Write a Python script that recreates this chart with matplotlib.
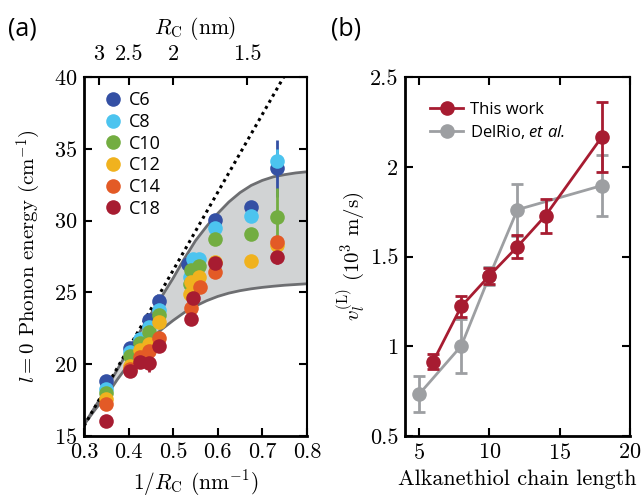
import matplotlib
matplotlib.use('Agg')
import matplotlib.pyplot as plt
from matplotlib.ticker import FormatStrFormatter
from matplotlib.lines import Line2D

plt.rcParams['font.family'] = ['cmr10', 'DejaVu Serif']
plt.rcParams['axes.formatter.use_mathtext'] = True
plt.rcParams['axes.unicode_minus'] = False
plt.rcParams['mathtext.fontset'] = 'custom'
plt.rcParams['mathtext.rm'] = 'cmr10'
plt.rcParams['mathtext.it'] = 'cmmi10'
plt.rcParams['mathtext.bf'] = 'cmb10'
plt.rcParams['mathtext.sf'] = 'Open Sans:italic'
plt.rcParams['mathtext.fallback'] = 'cm'

# ---- panel (a) data: 1/R_C (nm^-1), phonon energy (cm^-1), error
x_c6 = [0.350, 0.403, 0.425, 0.446, 0.468, 0.533, 0.594, 0.674, 0.732]
y_c6 = [18.85, 21.1, 21.7, 23.1, 24.4, 26.95, 30.04, 30.97, 33.64]
e_c6 = [0, 0, 0, 0, 0, 0, 0, 0, 1.97]

x_c8 = [0.350, 0.403, 0.425, 0.446, 0.468, 0.545, 0.557, 0.538, 0.594, 0.674, 0.732]
y_c8 = [18.3, 20.85, 21.75, 22.6, 23.8, 27.3, 27.3, 26.1, 29.46, 30.35, 34.17]
e_c8 = [0, 0, 0, 0, 0, 0, 0, 0, 0, 0, 0.8]

x_c10 = [0.350, 0.403, 0.425, 0.446, 0.468, 0.541, 0.558, 0.538, 0.594, 0.674, 0.732]
y_c10 = [18.0, 20.6, 21.5, 22.25, 23.4, 26.55, 26.85, 25.6, 28.7, 29.07, 30.27]
e_c10 = [0, 0, 0, 0, 0, 0, 0, 0, 0, 0.2, 2.0]

x_c12 = [0.350, 0.403, 0.425, 0.446, 0.468, 0.557, 0.541, 0.537, 0.594, 0.674, 0.732]
y_c12 = [17.6, 19.9, 21.0, 21.4, 22.95, 26.1, 25.75, 24.9, 27.1, 27.19, 28.3]
e_c12 = [0, 0, 0, 0, 0, 0, 0, 0, 0, 0, 0.3]

x_c14 = [0.350, 0.403, 0.425, 0.446, 0.468, 0.560, 0.541, 0.594, 0.732]
y_c14 = [17.25, 19.7, 20.5, 20.9, 21.8, 25.4, 23.9, 26.44, 28.53]
e_c14 = [0, 0, 0, 0, 0, 0, 0, 0, 0.3]

x_c18 = [0.350, 0.403, 0.425, 0.446, 0.468, 0.544, 0.541, 0.594, 0.732]
y_c18 = [16.05, 19.5, 20.15, 20.05, 21.25, 24.6, 23.13, 27.03, 27.49]
e_c18 = [0, 0, 0, 0.6, 0, 0, 0, 0, 0.5]

ligands = ['C6', 'C8', 'C10', 'C12', 'C14', 'C18']
lig_colors = ['#3450a4', '#4cc4ef', '#73ad41', '#f0b21e', '#e35a26', '#a71c31']

# model band
band_x = [0.300, 0.325, 0.350, 0.375, 0.400, 0.425, 0.450, 0.475, 0.500,
          0.525, 0.550, 0.575, 0.600, 0.625, 0.650, 0.675, 0.700, 0.725,
          0.750, 0.775, 0.800]
band_hi = [15.8, 17.05, 18.3, 19.65, 21.0, 22.25, 23.5, 24.75, 26.0,
           27.35, 28.6, 29.6, 30.5, 31.3, 31.95, 32.45, 32.8, 33.05,
           33.2, 33.32, 33.4]
band_lo = [15.8, 16.85, 17.8, 18.95, 20.0, 20.95, 21.75, 22.45, 23.05,
           23.6, 24.05, 24.42, 24.72, 24.95, 25.12, 25.25, 25.35, 25.43,
           25.5, 25.55, 25.6]

# dotted line endpoints
dot_x = [0.30, 0.748]
dot_y = [15.7, 40.0]

r_ticks = [3, 2.5, 2, 1.5]

# ---- panel (b) data
n_this = [6, 8, 10, 12, 14, 18]
v_this = [0.915, 1.222, 1.393, 1.555, 1.728, 2.165]
err_this = [0.04, 0.06, 0.045, 0.063, 0.095, 0.195]

n_delrio = [5, 8, 10, 12, 18]
v_delrio = [0.733, 1.002, 1.39, 1.761, 1.895]
err_delrio = [0.10, 0.15, 0.05, 0.145, 0.17]

red = '#a71c31'
grey = '#9d9fa2'

fig = plt.figure(figsize=(6.42, 5.0), dpi=100)
ax1 = fig.add_axes([0.131, 0.128, 0.347, 0.718])
ax2 = fig.add_axes([0.631, 0.128, 0.350, 0.718])

# panel (a)
ax1.fill_between(band_x, band_lo, band_hi, color='#d1d3d4', lw=0, zorder=1)
ax1.plot(band_x, band_hi, color='#6d6e71', lw=2, zorder=2)
ax1.plot(band_x, band_lo, color='#6d6e71', lw=2, zorder=2)
ax1.plot(dot_x, dot_y, color='k', ls=(0, (1, 1.3)), lw=2.2, zorder=2)

xs = [x_c6, x_c8, x_c10, x_c12, x_c14, x_c18]
ys = [y_c6, y_c8, y_c10, y_c12, y_c14, y_c18]
es = [e_c6, e_c8, e_c10, e_c12, e_c14, e_c18]
for name, c, x, y, e in zip(ligands, lig_colors, xs, ys, es):
    ax1.errorbar(x, y, yerr=e, fmt='o', color=c, ms=10.5, mew=0,
                 elinewidth=2, capsize=3.5, capthick=2, zorder=3)

ax1.set_xlim(0.3, 0.8)
ax1.set_ylim(15, 40)
ax1.set_xticks([0.3, 0.4, 0.5, 0.6, 0.7, 0.8])
ax1.set_yticks([15, 20, 25, 30, 35, 40])
ax1.xaxis.set_major_formatter(FormatStrFormatter('%g'))
ax1.tick_params(direction='in', length=6, width=1.5, labelsize=16,
                right=True, top=False)
ax1.tick_params(axis='x', pad=5)
ax1.tick_params(axis='y', pad=5)
ax1.set_xlabel(r'$1/R_{\rm C}$ (nm$^{-1}$)', fontsize=15.5, labelpad=4)
ax1.set_ylabel(r'$l = 0$ Phonon energy (cm$^{-1}$)', fontsize=15, labelpad=8)

sec = ax1.secondary_xaxis('top', functions=(lambda v: 1 / v, lambda v: 1 / v))
sec.set_xticks(r_ticks)
sec.set_xticklabels(['3', '2.5', '2', '1.5'])
sec.tick_params(direction='in', length=6, width=1.5, labelsize=16, pad=9)
sec.set_xlabel(r'$R_{\rm C}$ (nm)', fontsize=15.5, labelpad=8)

h1 = [Line2D([], [], ls='none', marker='o', ms=10.5, mew=0, color=c)
      for c in lig_colors]
ax1.legend(h1, ligands, loc='upper left', frameon=False, handletextpad=0.1,
           labelspacing=0.2, borderaxespad=0.4, handlelength=1.6,
           prop={'family': 'Open Sans', 'size': 13})

# panel (b)
ax2.errorbar(n_delrio, v_delrio, yerr=err_delrio, fmt='-o', color=grey,
             ms=9.5, lw=2, elinewidth=2, capsize=4, capthick=2, zorder=2)
ax2.errorbar(n_this, v_this, yerr=err_this, fmt='-o', color=red,
             ms=9.5, lw=2, elinewidth=2, capsize=4, capthick=2, zorder=3)
ax2.set_xlim(4, 20)
ax2.set_ylim(0.5, 2.5)
ax2.set_xticks([5, 10, 15, 20])
ax2.set_yticks([0.5, 1, 1.5, 2, 2.5])
ax2.yaxis.set_major_formatter(FormatStrFormatter('%g'))
ax2.tick_params(direction='in', length=6, width=1.5, labelsize=16,
                right=True, top=True)
ax2.tick_params(axis='x', pad=5)
ax2.tick_params(axis='y', pad=5)
ax2.set_xlabel('Alkanethiol chain length', fontsize=16, labelpad=5)
ax2.set_ylabel(r'$v_l^{(\rm L)}$ (10$^3$ m/s)', fontsize=15, labelpad=2)

h2 = [Line2D([], [], color=red, lw=2, marker='o', ms=9.5),
      Line2D([], [], color=grey, lw=2, marker='o', ms=9.5)]
ax2.legend(h2, ['This work', r'DelRio, $\mathsf{et\ al.}$'], loc='upper left',
           frameon=False, handlelength=2.0, handletextpad=0.4,
           labelspacing=0.3, borderaxespad=1.1,
           prop={'family': 'Open Sans', 'size': 12})

for ax in (ax1, ax2):
    ax.spines['left'].set_linewidth(2)
    ax.spines['bottom'].set_linewidth(2)
    ax.spines['top'].set_linewidth(1.5)
    ax.spines['right'].set_linewidth(1.5)

fig.text(0.012, 0.93, '(a)', fontsize=18, family='Open Sans')
fig.text(0.516, 0.93, '(b)', fontsize=18, family='Open Sans')

fig.savefig('out.png', dpi=100)
